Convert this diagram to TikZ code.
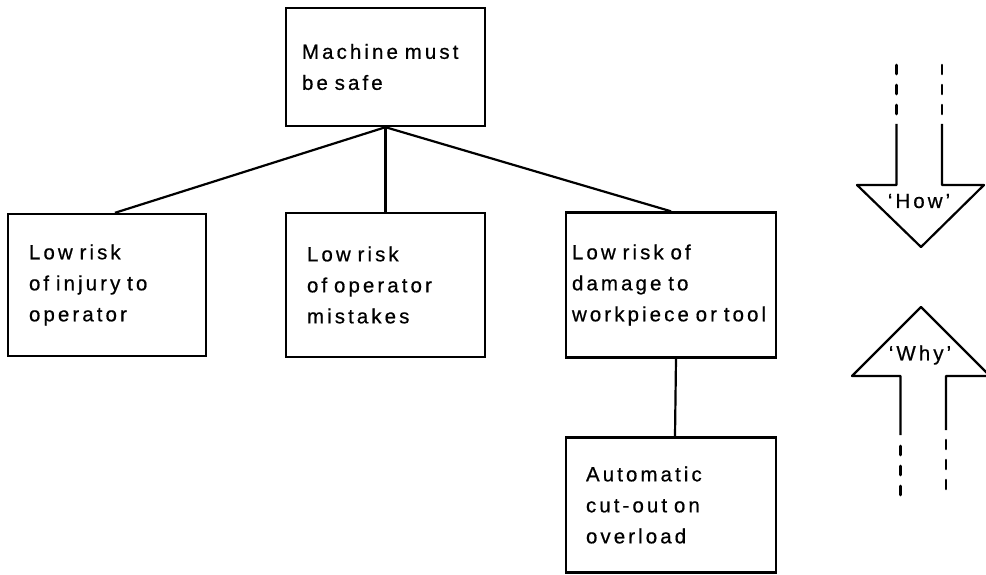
\documentclass[tikz,border=0pt]{standalone}
\usepackage{fontspec}
\newfontfamily\boxfont{Liberation Sans}[LetterSpace=15, FakeBold=0.6]
\usetikzlibrary{positioning}

\tikzset{
  goal/.style={draw, line width=2.4pt, align=left, inner ysep=0pt,
    font={\boxfont\fontsize{20.5}{31}\selectfont\spaceskip=9pt}},
  tag/.style={inner sep=0pt, font={\boxfont\fontsize{20.5}{31}\selectfont}},
  shaft/.style={line width=2.2pt, line join=round},
  dashes/.style={line width=2.6pt, line cap=round, dash pattern=on 9pt off 11pt}
}

\begin{document}
\begin{tikzpicture}[x=1pt, y=-1pt, on grid]
  \useasboundingbox (0,0) rectangle (986,575);

  \node[goal, minimum width=199pt, minimum height=118pt, text width=167pt, inner xsep=16pt] (safe) at (385.5,67) {Machine must\\be safe};
  \node[goal, minimum width=199pt, minimum height=144pt, text width=157pt, inner xsep=21pt] (mistakes) [below=218pt of safe] {Low risk\\of operator\\mistakes};
  \node[goal, minimum width=198pt, minimum height=142pt, text width=156pt, inner xsep=21pt] (injury) [left=278.5pt of mistakes] {Low risk\\of injury to\\operator};
  \node[goal, minimum width=210pt, minimum height=145pt, text width=198pt, inner xsep=6pt] (damage) [right=285.5pt of mistakes] {Low risk of\\damage to\\workpiece~or~tool};
  \node[goal, minimum width=210pt, minimum height=135pt, text width=170pt, inner xsep=20pt] (cutout) [below=220pt of damage] {Automatic\\cut-out on\\overload};

  \path[line width=2.2pt]
  (safe.south) edge ([xshift=8pt]injury.north)
  (safe.south) edge (mistakes.north)
  (safe.south) edge (damage.north)
  ([xshift=5pt]damage.south) edge ([xshift=4pt]cutout.north);

  \draw[dashes] (896.5,65) -- (896.5,116) (942,65) -- (942,116);
  \draw[shaft] (896.5,124) |- (857,185) -- (921,247) -- (984,185) -| (942,124);
  \node[tag] (how) at (919,201) {‘How’};

  \draw[shaft] (900.5,435) |- (852,376) -- (921,307) -- (990,376) -| (946,430);
  \draw[dashes] (900.5,446) -- (900.5,500) (946,440) -- (946,500);
  \node[tag] (why) at (920,355) {‘Why’};
\end{tikzpicture}
\end{document}
